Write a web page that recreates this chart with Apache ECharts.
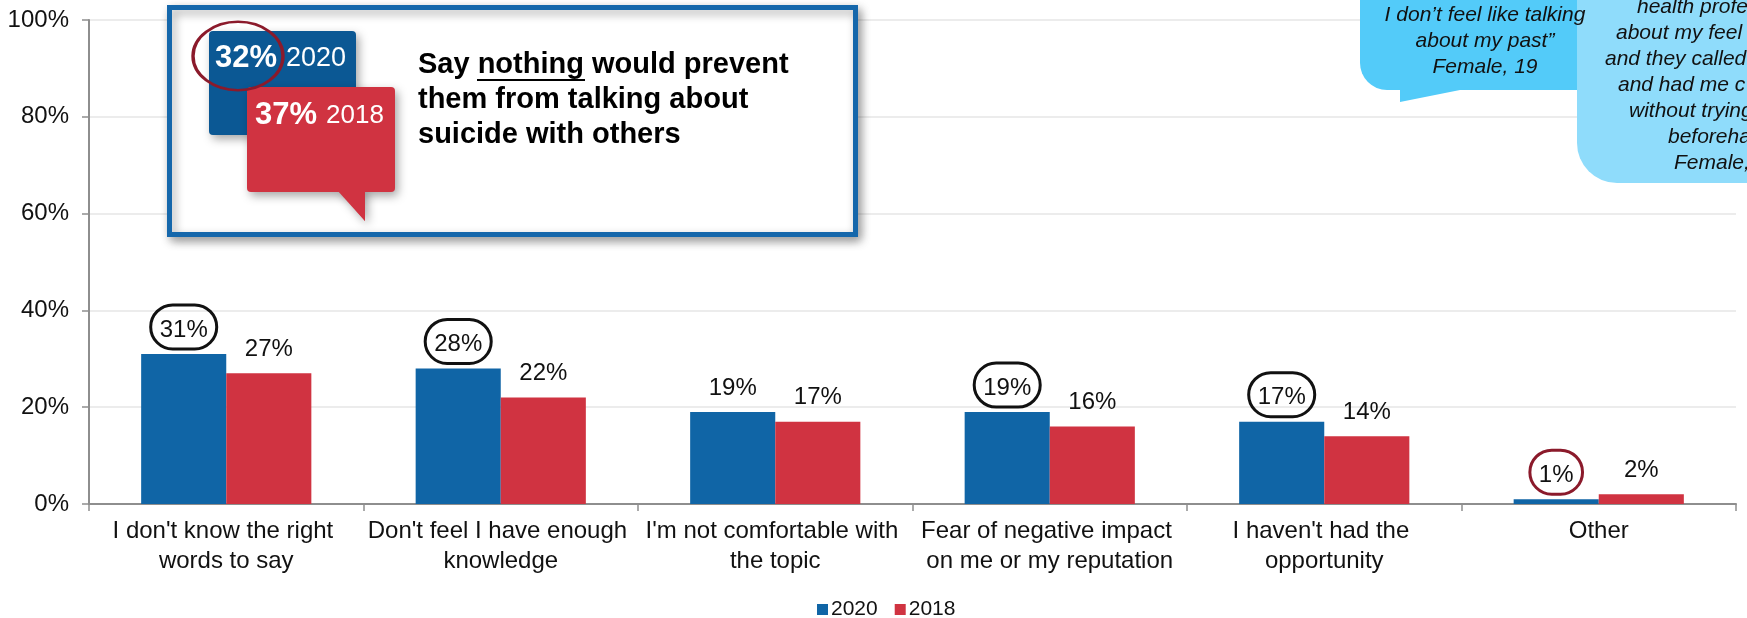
<!DOCTYPE html>
<html>
<head>
<meta charset="utf-8">
<script src="https://cdn.jsdelivr.net/npm/echarts@6/dist/echarts.min.js"></script>
<style>
html,body{margin:0;padding:0;background:#fff;}
#chart{width:1747px;height:618px;}
</style>
</head>
<body>
<div id="chart"></div>
<script>
// ---- data ----
const categories = [
  "I don't know the right words to say",
  "Don't feel I have enough knowledge",
  "I'm not comfortable with the topic",
  "Fear of negative impact on me or my reputation",
  "I haven't had the opportunity",
  "Other"
];
const seriesNames = ['2020', '2018'];
const values2020 = [31, 28, 19, 19, 17, 1];
const values2018 = [27, 22, 17, 16, 14, 2];
const nothing2020 = 32;
const nothing2018 = 37;
const quote1 = ['I don\u2019t feel like talking', 'about my past\u201d', 'Female, 19'];
const quote2 = ['health profe', 'about my feel', 'and they called', 'and had me c', 'without trying', 'beforeha', 'Female,'];

// ---- styling ----
const FONT = '"Liberation Sans", Arial, sans-serif';
const BLUE = '#1065A6';
const RED = '#D03341';
const DARKRED = '#8B1A2B';
// which 2020 labels are circled, and with what colour
const circleColor2020 = ['#111', '#111', null, '#111', '#111', DARKRED];

const baseLabel = {
  show: true, position: 'top', distance: 5,
  fontFamily: FONT, fontSize: 24, lineHeight: 24, color: '#111',
  padding: [13, 9, 7, 9], borderRadius: 30, borderWidth: 3,
  borderColor: 'transparent',
  formatter: '{c}%'
};

const data2020 = values2020.map((v, i) => {
  const c = circleColor2020[i];
  return c ? { value: v, label: { borderColor: c } } : v;
});

const chart = echarts.init(document.getElementById('chart'), null, { renderer: 'canvas' });

const shadow = { shadowBlur: 10, shadowOffsetX: 3, shadowOffsetY: 4, shadowColor: 'rgba(0,0,0,0.35)' };

const graphic = [
  // summary box
  { type: 'rect', z: 100, shape: { x: 169.5, y: 7.5, width: 686, height: 227 },
    style: Object.assign({ fill: '#fff', stroke: '#1567AB', lineWidth: 5 }, shadow) },
  // blue bubble
  { type: 'rect', z: 101, shape: { x: 209, y: 31, width: 147, height: 104, r: 4 },
    style: Object.assign({ fill: '#0B5894' }, shadow) },
  // red bubble tail + body
  { type: 'polygon', z: 102, shape: { points: [[337, 188], [365, 188], [365, 221]] },
    style: Object.assign({ fill: RED }, shadow) },
  { type: 'rect', z: 103, shape: { x: 247, y: 87, width: 148, height: 105, r: 4 },
    style: Object.assign({ fill: RED }, shadow) },
  { type: 'polygon', z: 104, shape: { points: [[337, 190], [365, 190], [365, 221]] },
    style: { fill: RED } },
  { type: 'text', z: 105, style: { text: nothing2020 + '%', x: 215, y: 58, fill: '#fff',
      font: 'bold 31px ' + FONT, verticalAlign: 'middle' } },
  { type: 'text', z: 105, style: { text: seriesNames[0], x: 286, y: 59, fill: '#fff',
      font: '27px ' + FONT, verticalAlign: 'middle' } },
  { type: 'text', z: 105, style: { text: nothing2018 + '%', x: 255, y: 115, fill: '#fff',
      font: 'bold 31px ' + FONT, verticalAlign: 'middle' } },
  { type: 'text', z: 105, style: { text: seriesNames[1], x: 326, y: 116, fill: '#fff',
      font: '26px ' + FONT, verticalAlign: 'middle' } },
  // hand-drawn circle around 32%
  { type: 'circle', z: 106, x: 238, y: 56, scaleY: 0.76,
    shape: { cx: 0, cy: 0, r: 45 },
    style: { fill: 'none', stroke: DARKRED, lineWidth: 3.4 } },
  // headline text
  { type: 'text', z: 105, style: {
      text: 'Say nothing would prevent\nthem from talking about\nsuicide with others',
      x: 418, y: 47.5, fill: '#000', font: 'bold 29px ' + FONT, lineHeight: 35,
      verticalAlign: 'top' } },
  { type: 'line', z: 105, shape: { x1: 477, y1: 80, x2: 585, y2: 80 },
    style: { stroke: '#000', lineWidth: 2 } },
  // right quote bubble 1
  { type: 'rect', z: 100, shape: { x: 1360, y: -40, width: 245, height: 130, r: 27 },
    style: { fill: '#53CBF9' } },
  { type: 'polygon', z: 100, shape: { points: [[1400, 84], [1400, 102], [1465, 89], [1465, 84]] },
    style: { fill: '#53CBF9' } },
  // right quote bubble 2
  { type: 'rect', z: 100, shape: { x: 1577, y: -40, width: 260, height: 223, r: 40 },
    style: { fill: '#8FDCFB' } }
];

quote1.forEach((t, i) => {
  graphic.push({ type: 'text', z: 101, style: { text: t, x: 1485, y: 15 + 26 * i,
    fill: '#111', font: 'italic 21px ' + FONT, align: 'center', verticalAlign: 'middle' } });
});
const q2x = [1637, 1616, 1605, 1618, 1629, 1668, 1674];
quote2.forEach((t, i) => {
  graphic.push({ type: 'text', z: 101, style: { text: t, x: q2x[i], y: 7 + 26 * i,
    fill: '#111', font: 'italic 21px ' + FONT, align: 'left', verticalAlign: 'middle' } });
});

const option = {
  backgroundColor: '#fff',
  animation: false,
  textStyle: { fontFamily: FONT },
  grid: { left: 89, right: 11, top: 20, bottom: 114, containLabel: false },
  legend: {
    data: seriesNames, left: 812, top: 594,
    icon: 'rect', itemWidth: 11, itemHeight: 11, itemGap: 17,
    textStyle: { fontFamily: FONT, fontSize: 21, color: '#111', padding: [0, 0, 0, -2] }
  },
  xAxis: {
    type: 'category', data: categories,
    axisLine: { lineStyle: { color: '#8E8E8E', width: 2 } },
    axisTick: { show: true, length: 7, lineStyle: { color: '#8E8E8E', width: 1.5 } },
    axisLabel: {
      interval: 0, margin: 12, fontFamily: FONT, fontSize: 24, lineHeight: 30,
      color: '#111', width: 268, overflow: 'break'
    }
  },
  yAxis: {
    type: 'value', min: 0, max: 100, interval: 20,
    axisLine: { show: true, lineStyle: { color: '#8E8E8E', width: 2 } },
    axisTick: { show: true, length: 7, lineStyle: { color: '#8E8E8E', width: 1.5 } },
    axisLabel: { formatter: '{value}%', margin: 20, fontFamily: FONT, fontSize: 24, color: '#111' },
    splitLine: { lineStyle: { color: '#E6E6E6', width: 1.5 } }
  },
  series: [
    { name: seriesNames[0], type: 'bar', data: data2020, barGap: '0%', barCategoryGap: '38%',
      itemStyle: { color: BLUE }, label: baseLabel, z: 3 },
    { name: seriesNames[1], type: 'bar', data: values2018, barGap: '0%', barCategoryGap: '38%',
      itemStyle: { color: RED }, label: baseLabel, z: 3 }
  ],
  graphic: graphic
};
chart.setOption(option);
</script>
</body>
</html>
